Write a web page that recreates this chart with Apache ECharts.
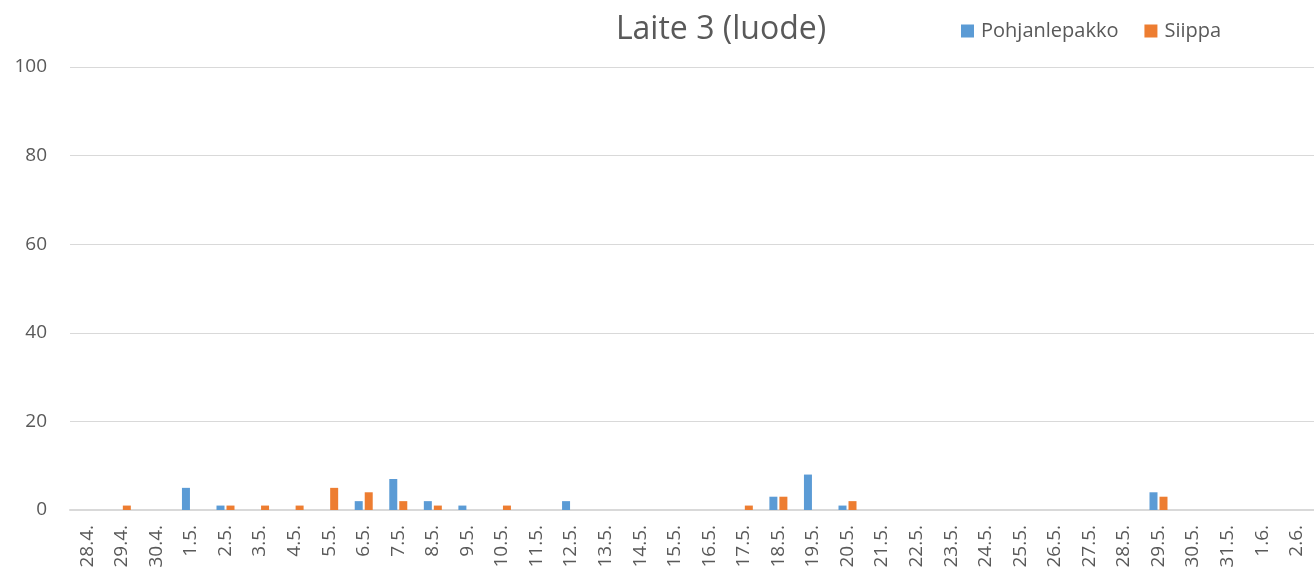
<!DOCTYPE html>
<html>
<head>
<meta charset="utf-8">
<script src="https://cdn.jsdelivr.net/npm/echarts@6/dist/echarts.min.js"></script>
<style>
  html, body { margin: 0; padding: 0; background: #fff; }
  #chart { width: 1314px; height: 573px; }
</style>
</head>
<body>
<div id="chart"></div>
<script>
// Days of observation, 28.4. – 2.6.
const days = ['28.4.', '29.4.', '30.4.', '1.5.', '2.5.', '3.5.', '4.5.', '5.5.', '6.5.', '7.5.',
  '8.5.', '9.5.', '10.5.', '11.5.', '12.5.', '13.5.', '14.5.', '15.5.', '16.5.', '17.5.',
  '18.5.', '19.5.', '20.5.', '21.5.', '22.5.', '23.5.', '24.5.', '25.5.', '26.5.', '27.5.',
  '28.5.', '29.5.', '30.5.', '31.5.', '1.6.', '2.6.'];

// Nightly counts per species
const pohjanlepakko = [0, 0, 0, 5, 1, 0, 0, 0, 2, 7,
  2, 1, 0, 0, 2, 0, 0, 0, 0, 0,
  3, 8, 1, 0, 0, 0, 0, 0, 0, 0,
  0, 4, 0, 0, 0, 0];
const siippa = [0, 1, 0, 0, 1, 1, 1, 5, 4, 2,
  1, 0, 1, 0, 0, 0, 0, 0, 0, 1,
  3, 0, 2, 0, 0, 0, 0, 0, 0, 0,
  0, 3, 0, 0, 0, 0];

const yTicks = [0, 20, 40, 60, 80, 100];

const font = 'Open Sans, Noto Sans, sans-serif';
const textColor = '#595959';

const chart = echarts.init(document.getElementById('chart'), null, { renderer: 'canvas' });
chart.setOption({
  animation: false,
  title: {
    text: 'Laite 3 (luode)',
    left: 716,
    textAlign: 'center',
    top: 9,
    textStyle: { fontFamily: font, fontSize: 32, fontWeight: 'normal', color: textColor }
  },
  legend: {
    left: 956,
    top: 16,
    itemWidth: 13,
    itemHeight: 13,
    itemGap: 26,
    icon: 'rect',
    textStyle: { fontFamily: font, fontSize: 20, color: textColor, padding: [0, 0, 0, 2] },
    data: ['Pohjanlepakko', 'Siippa']
  },
  grid: { left: 70, right: 0, top: 67, bottom: 63, containLabel: false },
  xAxis: {
    type: 'category',
    data: days,
    axisLine: { lineStyle: { color: '#D9D9D9', width: 2 } },
    axisTick: { show: false },
    axisLabel: {
      rotate: 90,
      interval: 0,
      margin: 15,
      fontFamily: font,
      fontSize: 19,
      color: textColor
    }
  },
  yAxis: {
    type: 'value',
    min: yTicks[0],
    max: yTicks[yTicks.length - 1],
    interval: yTicks[1] - yTicks[0],
    axisLine: { show: false },
    axisTick: { show: false },
    splitLine: { lineStyle: { color: '#D9D9D9', width: 1 } },
    axisLabel: { margin: 23, fontFamily: font, fontSize: 19, color: textColor }
  },
  series: [
    {
      name: 'Pohjanlepakko',
      type: 'bar',
      data: pohjanlepakko,
      barWidth: 8,
      barGap: '25%',
      itemStyle: { color: '#5B9BD5' }
    },
    {
      name: 'Siippa',
      type: 'bar',
      data: siippa,
      barWidth: 8,
      itemStyle: { color: '#ED7D31' }
    }
  ]
});
</script>
</body>
</html>
